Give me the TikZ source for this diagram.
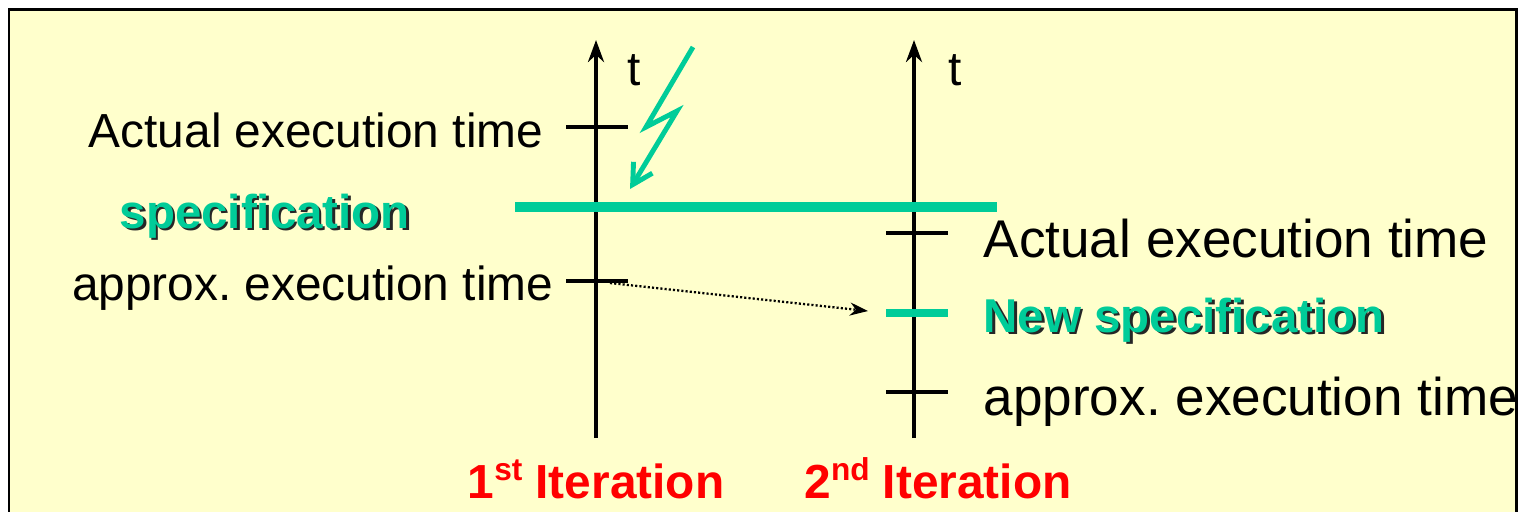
\documentclass[tikz,border=0pt]{standalone}
\usepackage{fontspec}
\setmainfont{Liberation Sans}
\usetikzlibrary{arrows.meta,positioning,calc}
\definecolor{specgreen}{HTML}{00CC99}
\definecolor{slidebg}{HTML}{FFFFCC}
\definecolor{itred}{HTML}{FF0000}
\newcommand{\shadowed}[1]{{\color{black!85}\rlap{\hspace{0.7pt}\raisebox{-0.7pt}{#1}}}{\color{specgreen}#1}}
\newcommand{\iter}[2]{#1{\fontsize{9}{10}\selectfont\raisebox{0.55em}{#2}} Iteration}
\frenchspacing

\begin{document}
\begin{tikzpicture}[x=0.01cm,y=-0.01cm,
  lbl/.style={font=\fontsize{13.6}{16}\selectfont,inner sep=0pt},
  biglbl/.style={font=\fontsize{15.1}{18}\selectfont,inner sep=0pt},
  speclbl/.style={font=\fontsize{13.5}{16}\selectfont\bfseries,inner sep=0pt},
  iterlbl/.style={font=\fontsize{13.6}{17}\selectfont\bfseries,text=itred,inner sep=0pt},
  timeaxis/.style={line width=1.15pt,-{Stealth[length=2.2mm,width=1.6mm]}},
  tickmark/.style={line width=1.15pt}]
\useasboundingbox (0,0) rectangle (1522,511);
\clip (0,0) rectangle (1522,511);
% slide frame
\draw[line width=0.85pt,fill=slidebg] (9,9) rectangle (1516,540);
% time axes
\coordinate (ax1b) at (596,438); \coordinate (ax1t) at (596,40);
\coordinate (ax2b) at (914,438); \coordinate (ax2t) at (914,40);
\draw[timeaxis] (ax1b) -- (ax1t);
\draw[timeaxis] (ax2b) -- (ax2t);
\node[lbl,anchor=base] (t1) at (634,85) {t};
\node[lbl,anchor=base] (t2) at (955,85) {t};
% 1st iteration
\foreach \y/\nm in {127/act1,281/app1}{
  \draw[tickmark] (566,\y) -- (628,\y);
  \coordinate (\nm) at (596,\y);}
\node[lbl,anchor=base east] (actlbl1) at (544,147) {Actual execution time};
\node[lbl,anchor=base east] (applbl1) at (554,300) {approx. execution time};
\draw[specgreen,line width=2.6pt] (515,207) -- (997,207);
\node[speclbl,anchor=base west] (speclbl1) at (119,228) {\shadowed{specification}};
% 2nd iteration
\foreach \y/\nm in {233/act2,392/app2}{
  \draw[tickmark] (886,\y) -- (948,\y);
  \coordinate (\nm) at (914,\y);}
\draw[specgreen,line width=2.3pt] (886,313) -- (948,313);
\coordinate (newspec) at (886,313);
\node[biglbl,anchor=base west] (actlbl2) at (983,257) {Actual execution time};
\node[speclbl,anchor=base west] (speclbl2) at (983,332) {\shadowed{New specification}};
\node[biglbl,anchor=base west] (applbl2) at (983,415) {approx. execution time};
% estimate carried over
\draw[line width=0.65pt,dash pattern=on 0.6pt off 0.6pt,-{Stealth[length=1.8mm,width=1.3mm]}] ($(app1)+(14,2)$) -- ($(newspec)+(-18,-2)$);
% deadline miss
\draw[specgreen,line width=1.4pt,-{Straight Barb[length=2mm,width=2.2mm]}]
  (693,47) -- (646,127) -- (677,111) -- (630,189);
% iteration labels
\node[iterlbl,anchor=base] (it1) at (596,498) {\iter{1}{st}};
\node[iterlbl,anchor=base] (it2) at (938,498) {\iter{2}{nd}};
\end{tikzpicture}
\end{document}
